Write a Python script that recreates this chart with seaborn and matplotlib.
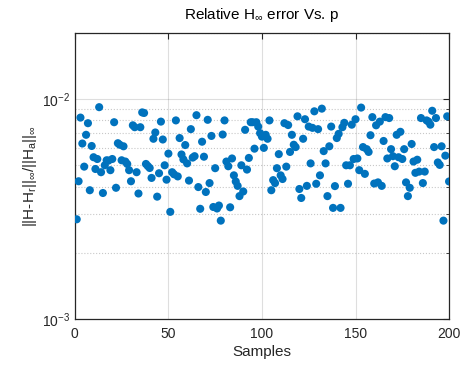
import numpy as np
import pandas as pd
import matplotlib
matplotlib.use("Agg")
import matplotlib.pyplot as plt
import seaborn as sns
from matplotlib.ticker import LogLocator, NullFormatter

# values (relative H-inf error per sample)
err_a = [2.84e-3, 4.23e-3, 8.24e-3, 6.28e-3, 4.93e-3, 6.88e-3, 7.77e-3, 3.85e-3, 6.12e-3, 5.44e-3,
         4.81e-3, 5.34e-3, 9.19e-3, 4.65e-3, 3.74e-3, 5.00e-3, 5.27e-3, 5.25e-3, 4.75e-3, 5.34e-3,
         7.85e-3, 3.95e-3, 6.30e-3, 6.20e-3, 5.27e-3, 6.10e-3, 5.20e-3, 5.07e-3, 4.75e-3, 4.23e-3]
err_b = [7.60e-3, 7.45e-3, 4.65e-3, 3.72e-3, 7.45e-3, 8.70e-3, 8.65e-3, 5.07e-3, 4.96e-3, 4.86e-3,
         4.38e-3, 6.60e-3, 7.05e-3, 3.60e-3, 4.60e-3, 7.90e-3, 6.55e-3, 5.00e-3, 4.30e-3, 5.65e-3,
         3.07e-3, 4.65e-3, 4.55e-3, 8.00e-3, 4.45e-3, 6.65e-3, 5.60e-3, 5.32e-3, 6.18e-3, 5.10e-3,
         4.26e-3, 7.30e-3, 5.42e-3, 5.50e-3, 8.45e-3, 3.98e-3]
err_c = [3.17e-3, 6.40e-3, 5.47e-3, 3.78e-3, 8.05e-3, 4.15e-3, 6.80e-3, 3.23e-3, 4.85e-3, 3.18e-3,
         3.28e-3, 2.80e-3, 6.90e-3, 8.00e-3, 5.20e-3, 4.95e-3, 3.22e-3, 5.37e-3, 4.50e-3, 4.22e-3,
         4.03e-3, 3.62e-3, 5.00e-3, 3.80e-3, 7.25e-3, 4.78e-3, 5.40e-3, 7.85e-3, 7.85e-3, 5.95e-3]
err_d = [7.85e-3, 7.50e-3, 7.00e-3, 6.75e-3, 6.00e-3, 6.88e-3, 6.60e-3, 8.00e-3]
err_e = [3.85e-3, 4.28e-3, 4.15e-3, 4.85e-3, 5.62e-3, 4.50e-3, 4.33e-3, 7.77e-3, 4.93e-3, 7.62e-3,
         5.75e-3, 6.88e-3, 6.20e-3, 6.05e-3, 8.35e-3, 3.90e-3, 3.55e-3, 6.60e-3, 8.10e-3, 4.03e-3,
         7.50e-3, 5.10e-3, 7.40e-3, 8.80e-3, 4.12e-3, 7.30e-3, 4.50e-3, 9.05e-3]
err_f = [5.80e-3, 5.10e-3, 3.62e-3, 6.10e-3, 7.50e-3, 3.20e-3, 4.02e-3, 6.65e-3, 6.95e-3, 3.20e-3,
         7.45e-3, 7.80e-3, 5.00e-3, 4.12e-3, 5.00e-3, 7.65e-3, 5.34e-3, 8.10e-3, 5.37e-3, 4.75e-3,
         9.15e-3, 6.05e-3, 4.57e-3, 5.92e-3, 5.75e-3, 6.85e-3, 8.28e-3, 4.13e-3, 7.60e-3, 4.18e-3,
         7.90e-3, 4.03e-3]
err_g = [6.45e-3, 8.28e-3, 5.37e-3, 8.20e-3, 5.92e-3, 5.50e-3, 4.95e-3, 6.88e-3, 5.44e-3, 7.10e-3,
         5.34e-3, 5.92e-3, 4.18e-3, 3.62e-3, 3.95e-3, 6.25e-3, 5.20e-3, 4.62e-3, 5.30e-3, 4.68e-3,
         8.20e-3, 4.15e-3, 4.68e-3, 8.00e-3, 7.90e-3, 7.65e-3, 8.85e-3, 6.05e-3, 8.20e-3, 5.15e-3,
         5.02e-3, 6.10e-3, 2.80e-3, 5.53e-3, 8.35e-3, 4.22e-3]

errors = err_a + err_b + err_c + err_d + err_e + err_f + err_g
df = pd.DataFrame({"sample": np.arange(1, len(errors) + 1), "err": errors})

sns.set_style("white")
plt.rcParams["font.family"] = ["Liberation Sans", "DejaVu Sans"]
plt.rcParams["mathtext.fontset"] = "custom"
plt.rcParams["mathtext.rm"] = "Liberation Sans"
plt.rcParams["mathtext.it"] = "Liberation Sans"

fig = plt.figure(figsize=(4.62, 3.70), dpi=100)
ax = fig.add_axes([0.162, 0.138, 0.810, 0.773])

sns.scatterplot(data=df, x="sample", y="err", ax=ax, color="#0072BD",
                s=34, edgecolor="none", linewidth=0, zorder=3)

ax.set_yscale("log")
ax.set_xlim(0, 200)
ax.set_ylim(1e-3, 2e-2)
ax.set_xticks([0, 50, 100, 150, 200])
ax.yaxis.set_major_locator(LogLocator(base=10, numticks=10))
ax.yaxis.set_minor_locator(LogLocator(base=10, subs=np.arange(2, 10), numticks=10))
ax.yaxis.set_minor_formatter(NullFormatter())

gc = (0.15, 0.15, 0.15)
ax.grid(True, which="major", color=gc, alpha=0.15, linewidth=0.8)
ax.yaxis.grid(True, which="minor", color=gc, alpha=0.25, linestyle=":", linewidth=0.8)
ax.set_axisbelow(True)

ax.tick_params(which="both", direction="in", top=True, right=True,
               colors="#262626", labelsize=10, length=4)
ax.tick_params(axis="x", pad=6)
ax.tick_params(which="minor", length=2.5)
for sp in ax.spines.values():
    sp.set_color("#262626")
    sp.set_linewidth(0.9)

ax.set_xlabel("Samples", fontsize=11, color="#262626", labelpad=3)
ax.set_ylabel(r"||H-H$_r$||$_\infty$/||H$_a$||$_\infty$", fontsize=11, color="#262626", labelpad=2)
ax.set_title(r"Relative H$_\infty$ error Vs. p", fontsize=11, color="#000000", pad=10)

fig.savefig("out.png", dpi=100)
